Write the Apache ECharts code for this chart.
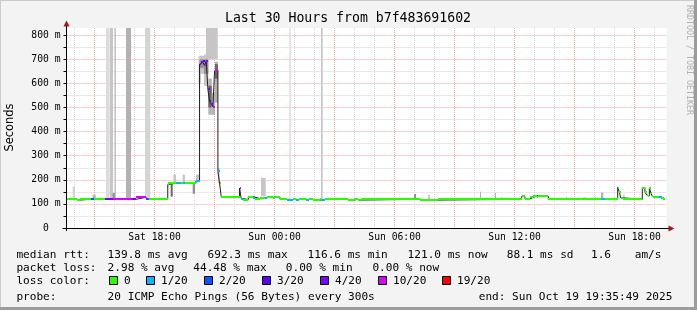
<!DOCTYPE html>
<html><head><meta charset="utf-8">
<script src="https://cdn.jsdelivr.net/npm/echarts@6/dist/echarts.min.js"></script>
<style>html,body{margin:0;padding:0;background:#f3f3f3}#c{width:697px;height:310px}</style>
</head><body><div id="c"></div>
<script>
// ---- data (time in hours since Sat 00:00) ----
const startHour = 13.597, endHour = 43.597, yMax = 830;
const xTickHours = [14,15,16,17,18,19,20,21,22,23,24,25,26,27,28,29,30,31,32,33,34,35,36,37,38,39,40,41,42,43];
const xLabelHours = [18,24,30,36,42];
const xLabelText = ['Sat 18:00','Sun 00:00','Sun 06:00','Sun 12:00','Sun 18:00'];
const yTickValues = [0,50,100,150,200,250,300,350,400,450,500,550,600,650,700,750,800];
const yLabelValues = [0,100,200,300,400,500,600,700,800];

const lossNames = ['0','1/20','2/20','3/20','4/20','10/20','19/20'];
const lossColors = ['#26ff00','#00b8ff','#0059ff','#5e00ff','#7e00ff','#dd00ff','#ff0000'];

// median rtt (ms): segment start hour, value, loss bucket
const medStart = [13.597,14.10,14.27,14.82,14.96,15.54,15.90,16.85,17.07,17.55,17.69,17.74,18.66,18.69,19.07,19.31,19.41,19.52,20.07,
  20.25,20.333,20.417,20.5,20.583,20.667,20.75,20.833,20.917,21.0,21.083,21.167,21.25,21.333,22.25,22.333,22.437,22.687,22.937,23.022,
  23.272,23.522,23.607,23.937,24.022,24.272,24.62,24.94,25.07,25.24,25.57,25.74,25.92,26.27,26.31,26.52,27.67,27.97,28.16,28.32,31.27,
  32.17,36.357,36.52,36.77,36.94,37.11,37.19,37.69,40.32,40.52,41.157,41.237,41.307,41.44,42.387,42.52,42.60,42.69,42.74,42.82,42.88,
  42.94,43.16,43.32,43.44];
const medVal = [119,116,119,119,119,119,119,119,127,119,119,119,180,187,187,187,187,187,196,
  680,687,692,675,692,575,526,515,503,651,655,235,187,130,166,122,118,130,125,122,
  125,125,128,125,128,119,118,119,118,119,118,119,116,119,118,119,116,119,116,119,116,
  119,131,121,127,134,127,131,119,119,119,168,150,125,119,168,150,137,134,166,145,132,
  127,130,125,121];
const medLoss = [0,0,0,2,0,4,5,4,5,2,5,0,0,0,1,0,1,0,1,
  4,4,3,5,4,4,4,4,5,5,5,1,0,0,5,1,0,0,1,0,
  0,1,0,0,0,0,1,0,1,0,1,0,0,0,1,0,0,0,0,0,0,
  0,0,0,0,0,0,0,0,1,0,0,0,0,0,0,0,0,0,0,0,0,
  0,1,0,0];
const medEnd = 43.52;

// smoke (spread of the 20 pings): start, end, low ms, high ms, density level
const smokeStart = [13.907,14.907,15.572,15.757,15.907,16.007,16.572,17.522,18.807,18.937,19.407,19.907,20.072,
  20.572,20.197,20.25,20.25,20.47,20.47,20.69,20.69,20.86,21.02,21.02,21.167,
  23.322,24.737,26.322,27.437,30.972,31.672,34.272,35.022,35.357,35.52,38.572,39.422,40.022,40.322,41.437];
const smokeEnd = [14.022,15.057,15.737,15.922,16.022,16.057,16.822,17.787,18.907,19.072,19.522,20.022,20.25,
  21.157,20.322,20.47,20.47,20.69,20.69,20.86,20.86,21.02,21.17,21.17,21.25,
  23.557,24.807,26.407,27.522,31.072,31.772,34.322,35.072,35.407,35.57,38.622,39.607,40.072,40.437,41.5];
const smokeLo = [119,119,119,119,119,119,119,119,130,187,187,142,196,
  700,600,640,665,590,640,470,500,470,520,620,187,
  132,119,119,119,119,119,119,119,119,119,119,119,119,119,119];
const smokeHi = [173,138,2000,2000,145,2000,2000,2000,187,222,222,187,222,
  2000,715,715,700,720,700,620,590,560,690,680,250,
  208,2000,2000,127,141,137,150,145,130,128,130,128,130,147,140];
const smokeLevel = [1,3,0,2,4,3,3,1,5,2,2,4,2,
  2,1,2,4,2,4,3,5,3,3,5,2,
  2,0,2,1,4,2,3,3,2,2,2,1,2,3,2];

// legend statistics
const rttStats = ['139.8 ms avg','692.3 ms max','116.6 ms min','121.0 ms now','88.1 ms sd','1.6','am/s'];
const lossStats = ['2.98 % avg','44.48 % max','0.00 % min','0.00 % now'];
const probeText = '20 ICMP Echo Pings (56 Bytes) every 300s';
const endText = 'end: Sun Oct 19 19:35:49 2025';
const titleText = 'Last 30 Hours from b7f483691602';

// ---- styles ----
const shadePalette = ['#dcdcdc','#d4d4d4','#c6c6c6','#b2b2b2','#909090','#686868'];
const MONO = '"DejaVu Sans Mono", monospace';
const GRID_RED = '#f2a6a6', GRID_GRAY = '#d4d4d4';

const medData = medStart.map((t,i)=>[t, i+1<medStart.length?medStart[i+1]:medEnd, medVal[i], medLoss[i]]);
const lineData = medStart.map((t,i)=>[t, medVal[i]]).concat([[medEnd, medVal[medVal.length-1]]]);
const smokeData = smokeStart.map((t,i)=>[t, smokeEnd[i], smokeLo[i], smokeHi[i], smokeLevel[i]]);

const chart = echarts.init(document.getElementById('c'), null, {renderer:'canvas'});

const rttX = [107.6,207.6,307.6,407.6,506.7,591,634.7];
const lossX = [107.6,193.3,285.8,372.4];
const legBoxX = [109,146,204,262,320,378,442];
const graphics = [];
function txt(x,y,s,opt){ graphics.push(Object.assign({type:'text', x:x, y:y, silent:true, z:10,
  style:Object.assign({text:s, font:'11.1px '+MONO, fill:'#000', verticalAlign:'middle'}, opt||{})})); }
txt(16.4,255,'median rtt:'); rttStats.forEach((s,i)=>txt(rttX[i],255,s));
txt(16.4,268,'packet loss:'); lossStats.forEach((s,i)=>txt(lossX[i],268,s));
txt(16.4,281,'loss color:');
lossNames.forEach((n,i)=>{
  graphics.push({type:'rect', silent:true, z:10, shape:{x:legBoxX[i]+0.5, y:276.5, width:8, height:8}, style:{fill:lossColors[i], stroke:'#000', lineWidth:1}});
  txt(legBoxX[i]+15, 281, n);
});
txt(16.4,297,'probe:'); txt(107.6,297,probeText); txt(478.7,297,endText);
txt(348,19,titleText,{font:'13.2px '+MONO, align:'center'});
graphics.push({type:'text', x:10.5, y:127.5, rotation:Math.PI/2, silent:true, z:10,
  style:{text:'Seconds', font:'11.4px "DejaVu Sans"', fill:'#000', align:'center', verticalAlign:'middle'}});
graphics.push({type:'text', x:689, y:5, rotation:-Math.PI/2, silent:true, z:10,
  style:{text:'RRDTOOL / TOBI OETIKER', font:'8.3px '+MONO, fill:'#b0b0b0', align:'left', verticalAlign:'middle'}});
// axes lines + arrows
graphics.push({type:'rect', silent:true, z:20, shape:{x:62.5, y:228, width:607, height:1}, style:{fill:'#000'}});
graphics.push({type:'rect', silent:true, z:20, shape:{x:66, y:25, width:1, height:206}, style:{fill:'#000'}});
graphics.push({type:'polygon', silent:true, z:21, shape:{points:[[66.5,20.5],[63.5,26.5],[69.5,26.5]]}, style:{fill:'#a01818'}});
graphics.push({type:'polygon', silent:true, z:21, shape:{points:[[674.5,228.5],[668.5,225.5],[668.5,231.5]]}, style:{fill:'#a01818'}});
// frame
graphics.push({type:'rect', silent:true, z:0, shape:{x:0,y:0,width:697,height:1}, style:{fill:'#cbcbcb'}});
graphics.push({type:'rect', silent:true, z:0, shape:{x:0,y:0,width:1,height:310}, style:{fill:'#cbcbcb'}});
graphics.push({type:'rect', silent:true, z:0, shape:{x:694,y:0,width:3,height:310}, style:{fill:'#9c9c9c'}});
graphics.push({type:'rect', silent:true, z:0, shape:{x:0,y:307,width:697,height:3}, style:{fill:'#9c9c9c'}});

chart.setOption({
  animation:false,
  backgroundColor:'#f3f3f3',
  grid:{left:66.5, top:28, width:600, height:200, containLabel:false, outerBoundsMode:'none', backgroundColor:'#fff', show:true, borderWidth:0},
  xAxis:{type:'value', min:startHour, max:endHour,
    axisLine:{show:false},
    axisTick:{show:false, customValues:xTickHours},
    axisLabel:{customValues:xLabelHours, formatter:v=>xLabelText[xLabelHours.indexOf(v)]||'', fontFamily:'DejaVu Sans Mono', fontSize:9.7, color:'#000', margin:4},
    splitLine:{show:true, lineStyle:{color:[GRID_GRAY,GRID_RED,GRID_GRAY], type:[1,1], width:1}}},
  yAxis:{type:'value', min:0, max:yMax,
    axisLine:{show:false},
    axisTick:{show:true, customValues:yTickValues, length:3, lineStyle:{color:'#000'}},
    axisLabel:{customValues:yLabelValues, formatter:v=>v===0?'0  ':v+' m', fontFamily:'DejaVu Sans Mono', fontSize:9.7, color:'#000', margin:6},
    splitLine:{show:true, lineStyle:{color:[GRID_RED,GRID_GRAY], type:[1,1], width:1}}},
  graphic:graphics,
  series:[
    {type:'custom', name:'smoke', z:2, data:smokeData, encode:{x:[0,1], y:[2,3]}, clip:true,
     renderItem:(p,api)=>{
       const t0=api.value(0), t1=api.value(1), lo=api.value(2), hi=Math.min(api.value(3), yMax);
       const a=api.coord([t0,hi]), b=api.coord([t1,lo]);
       return {type:'rect', shape:{x:a[0], y:a[1], width:Math.max(1,b[0]-a[0]), height:b[1]-a[1]}, style:{fill:shadePalette[api.value(4)]}};
     }},
    {type:'line', name:'median', z:3, data:lineData, step:'end', symbol:'none', lineStyle:{color:'#202020', width:1}},
    {type:'custom', name:'loss', z:4, data:medData, encode:{x:[0,1], y:2},
     renderItem:(p,api)=>{
       const a=api.coord([api.value(0), api.value(2)]), b=api.coord([api.value(1), api.value(2)]);
       const x0=Math.round(a[0]), x1=Math.round(b[0]);
       return {type:'rect', shape:{x:x0, y:Math.round(a[1])-1, width:Math.max(1,x1-x0), height:2}, style:{fill:lossColors[api.value(3)]}};
     }}
  ]
});
</script></body></html>
